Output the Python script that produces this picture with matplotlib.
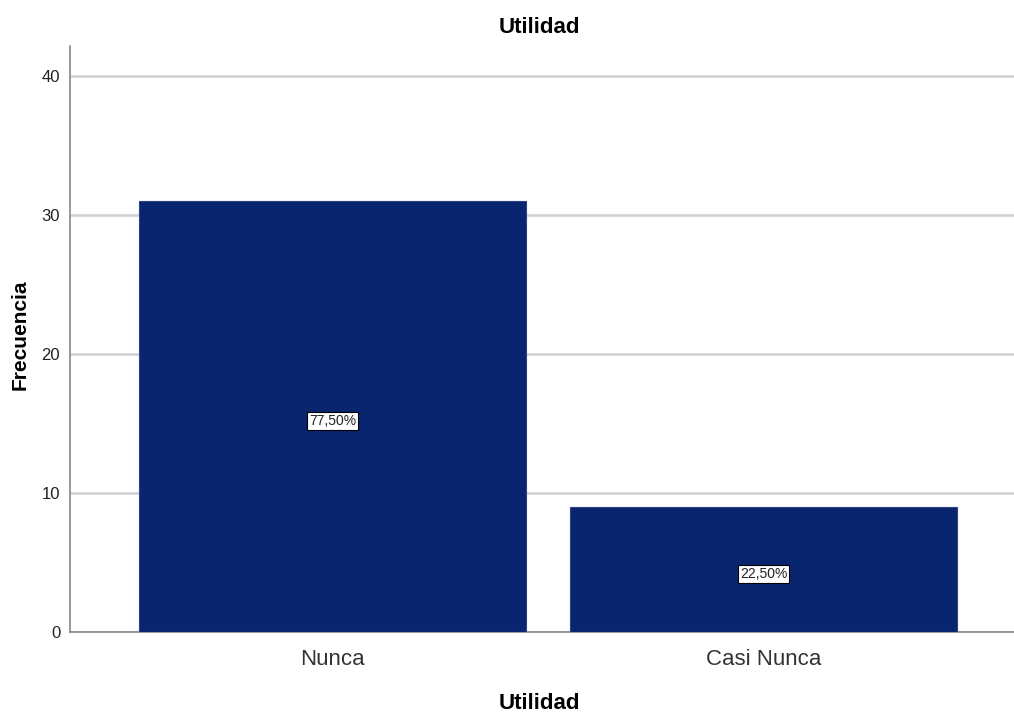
import matplotlib
matplotlib.use('Agg')
import matplotlib.pyplot as plt

# data
categorias = ['Nunca', 'Casi Nunca']
frecuencias = [31, 9]
porcentajes = ['77,50%', '22,50%']

narrow = ['Liberation Sans Narrow', 'Liberation Sans', 'DejaVu Sans']
wide = ['Liberation Sans', 'DejaVu Sans']

fig = plt.figure(figsize=(10.14, 7.13), dpi=100)
ax = fig.add_axes([0.069, 0.1136, 0.931, 0.822])

x = list(range(len(categorias)))
bars = ax.bar(x, frecuencias, width=0.898, color='#0A2570', edgecolor='#2a4585',
              linewidth=0.8, zorder=3)

# percentage labels in white boxes
for bar, txt in zip(bars, porcentajes):
    ax.text(bar.get_x() + bar.get_width() / 2, bar.get_height() / 2 - 0.3, txt,
            ha='center', va='center', fontsize=10, family=narrow, color='#222222',
            bbox=dict(boxstyle='square,pad=0.15', facecolor='white',
                      edgecolor='black', linewidth=0.8), zorder=4)

ax.set_xlim(-0.609, 1.581)
ax.set_ylim(0, 42.16)
ax.set_yticks([0, 10, 20, 30, 40])
ax.set_xticks(x)
ax.set_xticklabels(categorias, fontsize=16, family=narrow, color='#333333')
for lab in ax.get_yticklabels():
    lab.set_fontsize(12)
    lab.set_family(narrow)
    lab.set_color('#222222')

ax.grid(axis='y', color='#d0d0d0', linewidth=1.8, zorder=0)
ax.tick_params(axis='y', length=0, pad=7)
ax.tick_params(axis='x', length=0, pad=12)

for s in ['top', 'right']:
    ax.spines[s].set_visible(False)
ax.spines['left'].set_color('#888888')
ax.spines['bottom'].set_color('#888888')
ax.spines['left'].set_linewidth(1.2)
ax.spines['bottom'].set_linewidth(1.2)

fig.text(0.5315, 0.961, 'Utilidad', ha='center', va='center', fontsize=16,
         fontweight='bold', family=narrow)
fig.text(0.5315, 0.014, 'Utilidad', ha='center', va='center', fontsize=16,
         fontweight='bold', family=narrow)
fig.text(0.02, 0.531, 'Frecuencia', ha='center', va='center', rotation=90,
         fontsize=15, fontweight='bold', family=wide)

fig.savefig('out.png', dpi=100)
